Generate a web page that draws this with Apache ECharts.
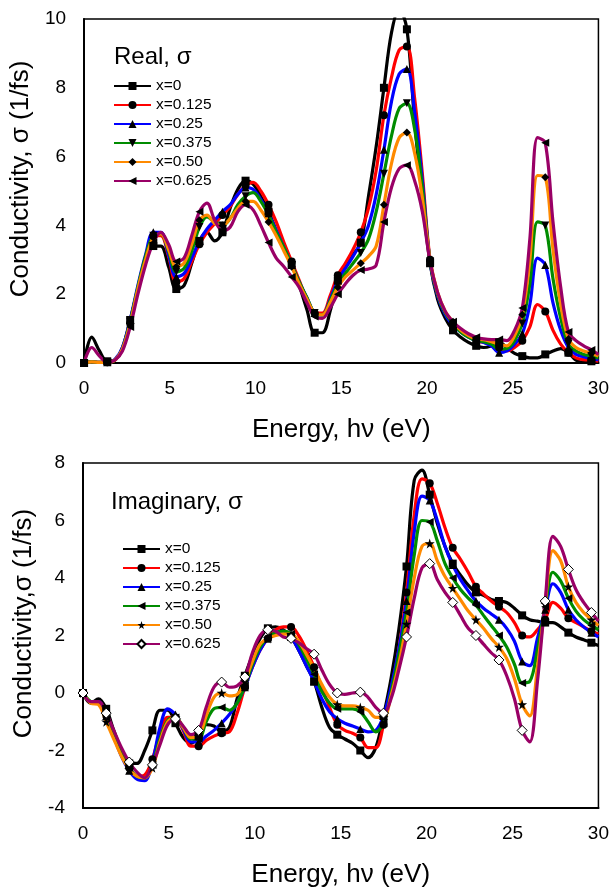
<!DOCTYPE html>
<html>
<head>
<meta charset="utf-8">
<script src="https://cdn.jsdelivr.net/npm/echarts@6/dist/echarts.min.js"></script>
<style>
html, body { margin: 0; padding: 0; background: #fff; }
#chart { width: 612px; height: 891px; }
</style>
</head>
<body>
<div id="chart"></div>
<script>
// photon energy (eV), shared by both panels
const energy = [0, 0.45, 0.9, 1.35, 1.79, 2.24, 2.69, 3.14, 3.59, 4.04,
  4.48, 4.93, 5.38, 5.83, 6.28, 6.73, 7.17, 7.62, 8.07, 8.52,
  8.97, 9.42, 9.86, 10.31, 10.76, 11.21, 11.66, 12.11, 12.55, 13.0,
  13.45, 13.9, 14.35, 14.8, 15.24, 15.69, 16.14, 16.59, 17.04, 17.49,
  17.93, 18.38, 18.83, 19.28, 19.73, 20.18, 20.62, 21.07, 21.52, 21.97,
  22.42, 22.87, 23.31, 23.76, 24.21, 24.66, 25.11, 25.56, 26.0, 26.45,
  26.9, 27.35, 27.8, 28.25, 28.69, 29.14, 29.59, 30]

const xNames = ['x=0', 'x=0.125', 'x=0.25', 'x=0.375', 'x=0.50', 'x=0.625']
const xTicks = [0, 5, 10, 15, 20, 25, 30]
const realTicks = [0, 2, 4, 6, 8, 10]
const imagTicks = [-4, -2, 0, 2, 4, 6, 8]

// real part
const realX0 = [0, 0.75, 0.35, 0.05, 0.08, 0.45, 1.25, 2.15, 2.95, 3.4,
  3.4, 2.8, 2.15, 2.25, 2.9, 3.55, 3.8, 3.55, 3.8, 4.5,
  5.05, 5.3, 5.2, 4.85, 4.4, 3.85, 3.35, 2.85, 2.25, 1.55,
  0.88, 0.88, 1.5, 2.4, 2.85, 3.15, 3.5, 4.85, 6.3, 8.0,
  9.6, 10.3, 9.7, 7.0, 4.8, 2.9, 1.85, 1.3, 0.95, 0.75,
  0.6, 0.5, 0.45, 0.5, 0.6, 0.45, 0.28, 0.2, 0.15, 0.15,
  0.25, 0.35, 0.42, 0.3, 0.08, 0.02, 0.05, 0.1]
const realX125 = [0, 0.03, 0.02, 0.02, 0.08, 0.4, 1.15, 2.15, 3.05, 3.7,
  3.7, 3.1, 2.35, 2.45, 2.95, 3.45, 3.8, 4.05, 4.3, 4.55,
  4.9, 5.15, 5.25, 5.0, 4.6, 4.1, 3.5, 2.95, 2.4, 1.85,
  1.45, 1.45, 1.95, 2.55, 2.9, 3.3, 3.8, 4.5, 5.6, 7.2,
  8.3, 9.1, 9.2, 7.7, 5.5, 3.0, 2.0, 1.45, 1.15, 0.95,
  0.8, 0.65, 0.6, 0.55, 0.45, 0.35, 0.45, 0.65, 1.05, 1.7,
  1.5, 0.95, 0.55, 0.3, 0.15, 0.1, 0.08, 0.05]
const realX25 = [0, 0.03, 0.02, 0.02, 0.1, 0.45, 1.25, 2.25, 3.15, 3.8,
  3.8, 3.15, 2.5, 2.6, 3.05, 3.55, 3.9, 4.15, 4.4, 4.6,
  4.9, 5.1, 5.05, 4.75, 4.35, 3.85, 3.35, 2.85, 2.35, 1.9,
  1.45, 1.4, 1.85, 2.4, 2.75, 3.1, 3.5, 4.0, 4.9, 6.2,
  7.6, 8.4, 8.55, 7.3, 5.3, 2.95, 1.95, 1.4, 1.1, 0.9,
  0.75, 0.65, 0.6, 0.5, 0.3, 0.35, 0.55, 0.85, 1.7, 3.05,
  2.85, 1.75, 0.95, 0.45, 0.25, 0.18, 0.12, 0.1]
const realX375 = [0, 0.03, 0.02, 0.02, 0.08, 0.4, 1.2, 2.2, 3.1, 3.7,
  3.75, 3.25, 2.65, 2.75, 3.25, 3.95, 4.25, 4.1, 4.0, 4.2,
  4.6, 4.85, 4.95, 4.7, 4.3, 3.8, 3.35, 2.85, 2.35, 1.9,
  1.45, 1.4, 1.8, 2.3, 2.6, 2.9, 3.2, 3.6, 4.4, 5.5,
  6.6, 7.4, 7.55, 6.8, 5.1, 2.95, 2.0, 1.45, 1.15, 0.9,
  0.75, 0.65, 0.62, 0.55, 0.4, 0.42, 0.65, 1.15, 2.3, 4.1,
  4.0, 2.45, 1.3, 0.55, 0.35, 0.25, 0.2, 0.15]
const realX50 = [0, 0.03, 0.02, 0.02, 0.08, 0.4, 1.15, 2.15, 3.0, 3.65,
  3.75, 3.3, 2.8, 2.9, 3.45, 4.15, 4.3, 4.05, 4.0, 4.2,
  4.5, 4.7, 4.7, 4.45, 4.1, 3.7, 3.25, 2.8, 2.3, 1.85,
  1.45, 1.4, 1.75, 2.2, 2.5, 2.7, 2.9, 3.1, 3.4, 4.6,
  5.8, 6.55, 6.7, 6.1, 4.8, 3.0, 2.05, 1.5, 1.2, 0.95,
  0.8, 0.7, 0.68, 0.62, 0.55, 0.5, 0.8, 1.4, 3.0, 5.45,
  5.4, 3.3, 1.7, 0.7, 0.45, 0.35, 0.28, 0.2]
const realX625 = [0, 0.45, 0.2, 0.02, 0.08, 0.35, 1.05, 2.0, 2.85, 3.5,
  3.8, 3.45, 2.95, 3.05, 3.7, 4.4, 4.65, 4.15, 3.85, 3.95,
  4.4, 4.6, 4.45, 4.0, 3.5, 3.05, 2.8, 2.5, 2.2, 1.75,
  1.35, 1.3, 1.6, 2.0, 2.3, 2.55, 2.7, 2.73, 2.85, 4.1,
  5.1, 5.65, 5.75, 5.3, 4.4, 2.95, 2.05, 1.5, 1.2, 1.0,
  0.85, 0.75, 0.7, 0.68, 0.68, 0.65, 0.95, 1.6, 3.6, 6.55,
  6.4, 4.1, 2.2, 0.9, 0.65, 0.5, 0.38, 0.25]

// imaginary part
const imagX0 = [0, -0.35, -0.2, -0.55, -1.3, -2.0, -2.45, -2.45, -2.0, -1.3,
  -0.6, -0.6, -1.05, -1.55, -1.75, -1.5, -1.1, -1.15, -1.35, -1.2,
  -0.2, 0.6, 1.3, 1.9, 2.25, 2.3, 2.2, 1.95, 1.5, 0.95,
  0.4, -0.5, -1.2, -1.45, -1.6, -1.75, -2.0, -2.25, -1.9, -0.8,
  0.5, 2.2, 4.4, 7.4, 7.75, 6.9, 5.9, 5.1, 4.5, 4.1,
  3.75, 3.5, 3.4, 3.25, 3.2, 3.15, 2.95, 2.7, 2.55, 2.5,
  2.45, 2.45, 2.3, 2.1, 1.95, 1.85, 1.75, 1.65]
const imagX125 = [0, -0.3, -0.3, -0.75, -1.4, -2.1, -2.6, -2.9, -2.85, -2.3,
  -1.4, -0.85, -0.85, -1.3, -1.85, -1.85, -1.65, -1.5, -1.4, -1.35,
  -0.7, 0.2, 0.9, 1.5, 1.9, 2.2, 2.3, 2.3, 2.0, 1.5,
  0.9, 0.2, -0.5, -1.1, -1.3, -1.4, -1.55, -1.9, -1.9, -1.1,
  0.1, 1.5, 3.5, 6.2, 7.45, 7.3, 6.6, 5.75, 5.05, 4.65,
  4.2, 3.7, 3.45, 3.2, 3.0, 2.8, 2.45, 2.0, 1.95, 2.2,
  2.55, 3.15, 2.95, 2.6, 2.45, 2.3, 2.15, 2.05]
const imagX25 = [0, -0.3, -0.3, -0.8, -1.5, -2.2, -2.7, -3.0, -3.05, -2.4,
  -1.2, -0.55, -0.75, -1.25, -1.7, -1.7, -1.5, -1.3, -1.05, -0.75,
  -0.35, 0.2, 0.9, 1.5, 1.9, 2.1, 2.15, 1.95, 1.5, 0.95,
  0.4, -0.2, -0.65, -0.9, -1.05, -1.15, -1.25, -1.35, -1.3, -0.8,
  0.2, 1.5, 3.2, 5.6, 6.85, 6.7, 6.0, 5.1, 4.45, 3.95,
  3.55, 3.2, 2.95, 2.75, 2.55, 2.25, 1.8, 1.1, 0.95, 1.9,
  2.9, 3.8, 3.5, 2.9, 2.55, 2.3, 2.1, 1.95]
const imagX375 = [0, -0.3, -0.35, -0.85, -1.5, -2.15, -2.6, -2.9, -2.95, -2.5,
  -1.6, -0.95, -0.85, -1.2, -1.6, -1.6, -1.0, -0.55, -0.5, -0.6,
  -0.35, 0.25, 1.0, 1.6, 1.95, 2.1, 2.15, 2.05, 1.7, 1.2,
  0.65, 0.05, -0.35, -0.55, -0.55, -0.55, -0.65, -1.0, -1.35, -1.05,
  0.0, 1.3, 2.8, 4.8, 6.0, 5.95, 5.3, 4.5, 4.0, 3.6,
  3.3, 3.05, 2.7, 2.35, 2.0, 1.6, 1.0, 0.35, 0.4, 1.5,
  3.0, 4.2, 3.9, 3.3, 2.85, 2.55, 2.35, 2.2]
const imagX50 = [0, -0.35, -0.4, -1.0, -1.6, -2.2, -2.65, -2.9, -2.95, -2.6,
  -1.7, -1.0, -0.85, -1.2, -1.55, -1.5, -0.8, -0.15, 0.0, -0.1,
  -0.05, 0.4, 1.1, 1.7, 1.9, 2.0, 2.05, 2.05, 1.8, 1.35,
  0.85, 0.3, -0.15, -0.4, -0.45, -0.45, -0.5, -0.6, -0.85, -0.85,
  -0.1, 1.0, 2.4, 4.0, 5.1, 5.2, 4.6, 4.05, 3.65, 3.25,
  2.85, 2.55, 2.25, 1.9, 1.6, 1.2, 0.5, -0.4, -0.8, 0.9,
  3.1, 4.95, 4.6, 3.7, 3.15, 2.8, 2.55, 2.35]
const imagX625 = [0, -0.3, -0.3, -0.7, -1.3, -1.9, -2.4, -2.75, -2.95, -2.5,
  -1.8, -1.1, -0.9, -1.15, -1.45, -1.3, -0.5, 0.2, 0.38, 0.2,
  0.25, 0.56, 1.4, 2.0, 2.2, 2.15, 1.95, 1.9, 1.75, 1.55,
  1.35, 0.8, 0.3, 0.0, -0.05, 0.0, 0.03, -0.15, -0.5, -0.7,
  -0.2, 0.8, 1.95, 3.3, 4.35, 4.5, 3.95, 3.5, 3.15, 2.7,
  2.25, 2.0, 1.7, 1.4, 1.15, 0.6, -0.2, -1.3, -1.7, 0.4,
  3.2, 5.45, 5.1, 4.3, 3.6, 3.15, 2.8, 2.5]

const realData = [realX0, realX125, realX25, realX375, realX50, realX625]
const imagData = [imagX0, imagX125, imagX25, imagX375, imagX50, imagX625]

const colors = ['#000000', '#ff0000', '#0000ff', '#008c00', '#ff8a00', '#990066']
const starPath = 'path://M50,0 L61,35 L98,35 L68,57 L79,91 L50,70 L21,91 L32,57 L2,35 L39,35 Z'
const realMarks = [
  { symbol: 'rect', rotate: 0 },
  { symbol: 'circle', rotate: 0 },
  { symbol: 'triangle', rotate: 0 },
  { symbol: 'triangle', rotate: 180 },
  { symbol: 'diamond', rotate: 0 },
  { symbol: 'triangle', rotate: 90 }
]
const imagMarks = [
  { symbol: 'rect', rotate: 0 },
  { symbol: 'circle', rotate: 0 },
  { symbol: 'triangle', rotate: 0 },
  { symbol: 'triangle', rotate: 90 },
  { symbol: starPath, rotate: 0, size: 10 },
  { symbol: 'diamond', rotate: 0, size: 10, fill: '#ffffff' }
]

const font = 'Liberation Sans'

// markers on every third point, the rest plain line
function toPoints(vals) {
  return energy.map(function (e, i) {
    if (i % 3 === 0 && i < 67) return [e, vals[i]]
    return { value: [e, vals[i]], symbol: 'none' }
  })
}

function makeSeries(prefix, data, marks, gridIdx) {
  return data.map(function (vals, k) {
    const m = marks[k]
    return {
      name: prefix + xNames[k],
      type: 'line',
      xAxisIndex: gridIdx,
      yAxisIndex: gridIdx,
      smooth: 0.35,
      data: toPoints(vals),
      symbol: m.symbol,
      symbolSize: m.size || 8,
      symbolRotate: m.rotate,
      lineStyle: { color: colors[k], width: 3.2 },
      itemStyle: m.fill
        ? { color: m.fill, borderColor: '#000', borderWidth: 1 }
        : { color: '#000' },
      emphasis: { disabled: true }
    }
  })
}

let myChart = echarts.init(document.getElementById('chart'))

const axisText = { color: '#000', fontFamily: font, fontSize: 19 }
const nameText = { color: '#000', fontFamily: font, fontSize: 26 }

function xAxisFor(gridIdx) {
  return {
    gridIndex: gridIdx,
    type: 'value',
    min: xTicks[0],
    max: xTicks[xTicks.length - 1],
    interval: xTicks[1] - xTicks[0],
    name: 'Energy, h\u03bd (eV)',
    nameLocation: 'middle',
    nameGap: 54,
    nameTextStyle: nameText,
    axisLine: { onZero: false, lineStyle: { color: '#000', width: 2 } },
    axisTick: { show: false },
    splitLine: { show: false },
    axisLabel: Object.assign({ margin: 16 }, axisText)
  }
}

function yAxisFor(gridIdx, ticks, title) {
  return {
    gridIndex: gridIdx,
    type: 'value',
    min: ticks[0],
    max: ticks[ticks.length - 1],
    interval: ticks[1] - ticks[0],
    name: title,
    nameLocation: 'middle',
    nameGap: 40,
    nameTextStyle: Object.assign({ padding: [0, 0, 0, 24] }, nameText),
    axisLine: { onZero: false, lineStyle: { color: '#000', width: 2 } },
    axisTick: { show: false },
    splitLine: { show: false },
    axisLabel: Object.assign({ margin: 18 }, axisText)
  }
}

function legendFor(prefix, left, top) {
  return {
    orient: 'vertical',
    left: left,
    top: top,
    padding: 0,
    itemWidth: 37,
    itemHeight: 10,
    itemGap: 3,
    selectedMode: false,
    data: xNames.map(function (n) { return prefix + n }),
    formatter: function (name) { return name.slice(prefix.length) },
    textStyle: { color: '#000', fontFamily: font, fontSize: 15.5, lineHeight: 16 }
  }
}

myChart.setOption({
  animation: false,
  backgroundColor: '#fff',
  title: [
    { text: 'Real, \u03c3', left: 114, top: 45, padding: 0,
      textStyle: { color: '#000', fontFamily: font, fontSize: 24, fontWeight: 'normal' } },
    { text: 'Imaginary, \u03c3', left: 111, top: 490, padding: 0,
      textStyle: { color: '#000', fontFamily: font, fontSize: 24, fontWeight: 'normal' } }
  ],
  legend: [legendFor('Re ', 113, 78), legendFor('Im ', 122, 541)],
  grid: [
    { left: 83, right: 12, top: 19, height: 344, show: true, borderColor: '#000', borderWidth: 1.5, backgroundColor: 'transparent' },
    { left: 83, right: 12, top: 463, height: 345, show: true, borderColor: '#000', borderWidth: 1.5, backgroundColor: 'transparent' }
  ],
  xAxis: [xAxisFor(0), xAxisFor(1)],
  yAxis: [
    yAxisFor(0, realTicks, 'Conductivity, \u03c3 (1/fs)'),
    yAxisFor(1, imagTicks, 'Conductivity,\u03c3 (1/fs)')
  ],
  series: makeSeries('Re ', realData, realMarks, 0).concat(makeSeries('Im ', imagData, imagMarks, 1))
})
</script>
</body>
</html>
